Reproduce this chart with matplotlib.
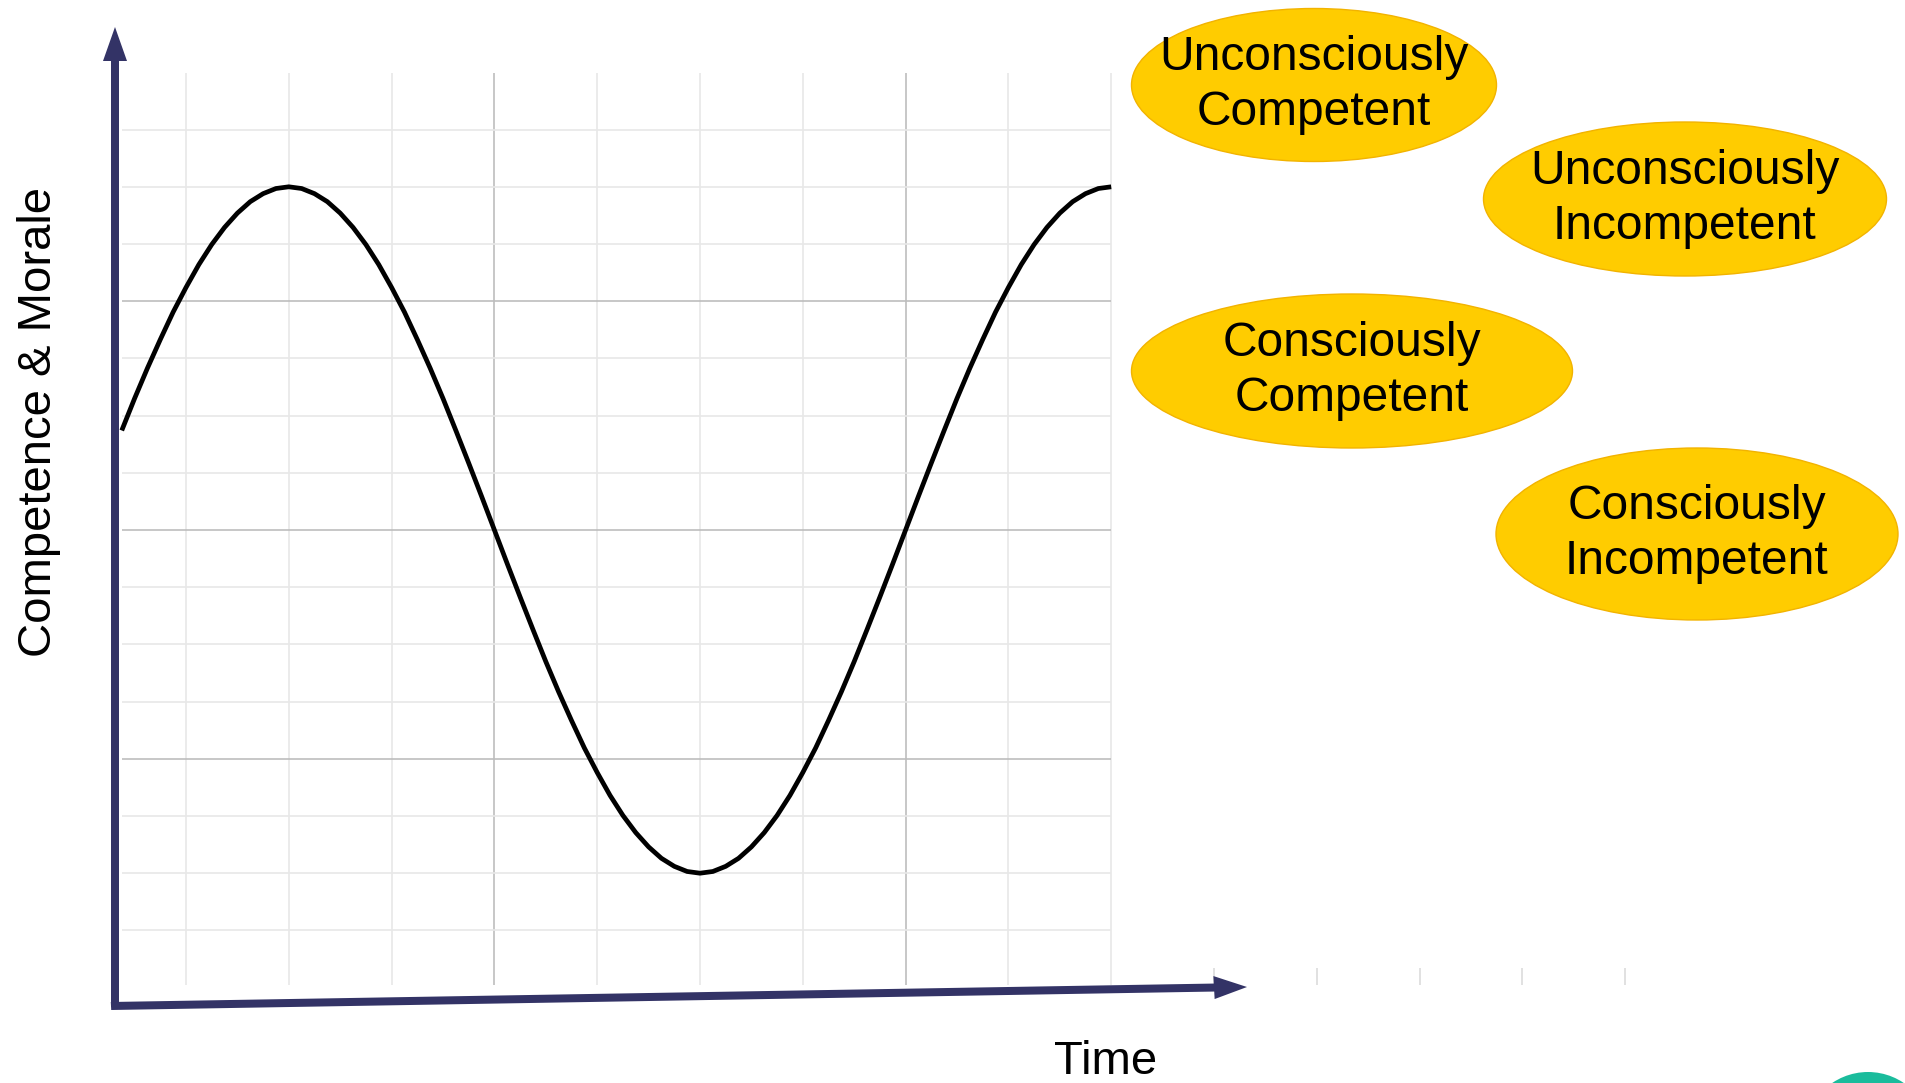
import matplotlib
matplotlib.use('Agg')
import matplotlib.pyplot as plt
from matplotlib.patches import Ellipse, FancyArrow

plt.rcParams['font.family'] = ['Liberation Sans', 'DejaVu Sans']

# curve (grid units, midline = 0)
curve_x = [0.375, 0.5, 0.625, 0.75, 0.875, 1.0, 1.125, 1.25, 1.375, 1.5, 1.625, 1.75, 1.875,
           2.0, 2.125, 2.25, 2.375, 2.5, 2.625, 2.75, 2.875, 3.0, 3.125, 3.25, 3.375, 3.5, 3.625,
           3.75, 3.875, 4.0, 4.125, 4.25, 4.375, 4.5, 4.625, 4.75, 4.875, 5.0, 5.125, 5.25, 5.375,
           5.5, 5.625, 5.75, 5.875, 6.0, 6.125, 6.25, 6.375, 6.5, 6.625, 6.75, 6.875, 7.0, 7.125,
           7.25, 7.375, 7.5, 7.625, 7.75, 7.875, 8.0, 8.125, 8.25, 8.375, 8.5, 8.625, 8.75, 8.875,
           9.0, 9.125, 9.25, 9.375, 9.5, 9.625, 9.75, 9.875, 10.0]
curve_y = [1.74, 2.30, 2.83, 3.33, 3.81, 4.24, 4.64, 4.99, 5.29, 5.54, 5.74, 5.88, 5.97,
           6.00, 5.97, 5.88, 5.74, 5.54, 5.29, 4.99, 4.64, 4.24, 3.81, 3.33, 2.83, 2.30, 1.74,
           1.17, 0.59, 0.00, -0.59, -1.17, -1.74, -2.30, -2.83, -3.33, -3.81, -4.24, -4.64, -4.99, -5.29,
           -5.54, -5.74, -5.88, -5.97, -6.00, -5.97, -5.88, -5.74, -5.54, -5.29, -4.99, -4.64, -4.24, -3.81,
           -3.33, -2.83, -2.30, -1.74, -1.17, -0.59, 0.00, 0.59, 1.17, 1.74, 2.30, 2.83, 3.33, 3.81,
           4.24, 4.64, 4.99, 5.29, 5.54, 5.74, 5.88, 5.97, 6.00]

grid_x = [1, 2, 3, 4, 5, 6, 7, 8, 9, 10]
grid_y = [7, 6, 5, 4, 3, 2, 1, 0, -1, -2, -3, -4, -5, -6, -7]
major_x = [4, 8]
major_y = [4, 0, -4]
stray_x = [11, 12, 13, 14, 15]

stages = ['Unconsciously\nCompetent', 'Unconsciously\nIncompetent',
          'Consciously\nCompetent', 'Consciously\nIncompetent']

y_label = 'Competence & Morale'
x_label = 'Time'

# pixel layout of the reference (1906x1083)
PX_X0, PX_DX = 186, 102.8
PX_Y0, PX_DY = 530, 57.2

def to_data(px, py):
    return 1 + (px - PX_X0) / PX_DX, (PX_Y0 - py) / PX_DY

fig = plt.figure(figsize=(19.06, 10.83), dpi=100)
ax = fig.add_axes([0, 0, 1, 1])
x0, y1 = to_data(0, 0)
x1, y0 = to_data(1906, 1083)
ax.set_xlim(x0, x1)
ax.set_ylim(y0, y1)
ax.axis('off')

# grid
gx_left, _ = to_data(122, 0)
_, gy_top = to_data(0, 73)
_, gy_bot = to_data(0, 985)
for gx in grid_x:
    c = '#bdbdbd' if gx in major_x else '#e8e8e8'
    ax.vlines(gx, gy_bot, gy_top, color=c, lw=1.2, zorder=1)
for gy in grid_y:
    c = '#bdbdbd' if gy in major_y else '#e8e8e8'
    ax.hlines(gy, gx_left, grid_x[-1], color=c, lw=1.2, zorder=1)
_, sy_top = to_data(0, 968)
for sx in stray_x:
    ax.vlines(sx, gy_bot, sy_top, color='#dcdcdc', lw=1.2, zorder=1)

# curve
ax.plot(curve_x, curve_y, color='black', lw=3.4, zorder=3,
        solid_capstyle='butt', solid_joinstyle='round')

# axis arrows
navy = '#333366'
vx, vy0 = to_data(115, 1007)
_, vy1 = to_data(115, 27)
ax.add_patch(FancyArrow(vx, vy0, 0, vy1 - vy0, width=8 / PX_DX, head_width=24 / PX_DX,
                        head_length=34 / PX_DY, length_includes_head=True, lw=0,
                        color=navy, zorder=4))
hx0, hy0 = to_data(111, 1006)
hx1, hy1 = to_data(1247, 987)
ax.add_patch(FancyArrow(hx0, hy0, hx1 - hx0, hy1 - hy0, width=8 / PX_DY, head_width=23 / PX_DY,
                        head_length=33 / PX_DX, length_includes_head=True, lw=0,
                        color=navy, zorder=4))

# labels
lx, ly = to_data(39, 422)
ax.text(lx, ly, y_label, rotation=90, ha='center', va='center', fontsize=34)
tx, ty = to_data(1106, 1074)
ax.text(tx, ty, x_label, ha='center', va='baseline', fontsize=34)

# stage bubbles
bubbles = [(1314, 85, 365, 153), (1685, 199, 403, 154),
           (1352, 371, 441, 154), (1697, 534, 402, 172)]
for label, (bx, by, bw, bh) in zip(stages, bubbles):
    cx, cy = to_data(bx, by)
    ax.add_patch(Ellipse((cx, cy), bw / PX_DX, bh / PX_DY, facecolor='#ffcc00',
                         edgecolor='#f2b300', lw=1, zorder=5))
    ax.text(cx, cy, label, ha='center', va='center', multialignment='center',
            fontsize=34.5, linespacing=1.3, zorder=6)

# green dot in the corner
gx, gy = to_data(1868, 1136)
ax.add_patch(Ellipse((gx, gy), 128 / PX_DX, 128 / PX_DY, color='#1abc9c', lw=0, zorder=5))

fig.savefig('out.png', dpi=100)
